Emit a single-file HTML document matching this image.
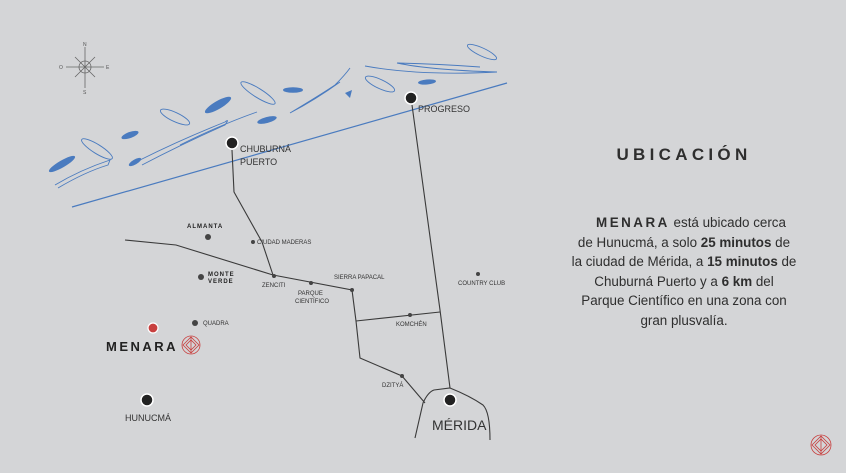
<!DOCTYPE html>
<html><head><meta charset="utf-8"><style>
html,body{margin:0;padding:0}
body{width:846px;height:473px;background:#d4d5d7;position:relative;overflow:hidden;font-family:"Liberation Sans",sans-serif}
svg{position:absolute;left:0;top:0}
.t{position:absolute;left:536px;width:296px;text-align:center;color:#2e2e2e}
</style></head><body>
<svg width="846" height="473" viewBox="0 0 846 473">
<g font-family="Liberation Sans, sans-serif">
<g stroke="#666" stroke-width="0.8" fill="none">
<line x1="85" y1="47" x2="85" y2="88"/><line x1="66" y1="67" x2="104" y2="67"/>
<line x1="75" y1="57" x2="95" y2="77"/><line x1="95" y1="57" x2="75" y2="77"/>
<circle cx="85" cy="67" r="6"/></g>
<g font-size="5" fill="#555"><text x="83" y="46">N</text><text x="59" y="69">O</text><text x="106" y="69">E</text><text x="83" y="94">S</text></g>
<g fill="#4a7bbf">
<ellipse cx="62" cy="164" rx="15" ry="3.5" transform="rotate(-30 62 164)"/>
<ellipse cx="130" cy="135" rx="9" ry="3" transform="rotate(-20 130 135)"/>
<ellipse cx="135" cy="162" rx="7" ry="2.5" transform="rotate(-30 135 162)"/>
<ellipse cx="218" cy="105" rx="15" ry="4" transform="rotate(-30 218 105)"/>
<ellipse cx="267" cy="120" rx="10" ry="3" transform="rotate(-15 267 120)"/>
<ellipse cx="293" cy="90" rx="10" ry="2.8"/>
<polygon points="345,93 352,90 350,98"/>
<ellipse cx="427" cy="82" rx="9" ry="2.5" transform="rotate(-5 427 82)"/>
</g>
<g fill="none" stroke="#4a7bbf" stroke-width="0.9">
<ellipse cx="97" cy="149" rx="18" ry="4.5" transform="rotate(32 97 149)"/>
<ellipse cx="175" cy="117" rx="16" ry="4.5" transform="rotate(25 175 117)"/>
<ellipse cx="258" cy="93" rx="20" ry="4.5" transform="rotate(32 258 93)"/>
<ellipse cx="380" cy="84" rx="16" ry="4.5" transform="rotate(25 380 84)"/>
<ellipse cx="482" cy="52" rx="16" ry="4" transform="rotate(25 482 52)"/>
<path d="M55,185 Q80,170 110,160 L108,165 Q85,172 58,188"/>
<path d="M140,160 Q180,140 225,122 Q230,118 225,125 Q180,145 142,165"/>
<path d="M180,145 Q220,125 257,112"/>
<path d="M290,113 Q320,95 335,85 Q345,75 350,68 M290,113 Q315,100 340,82"/>
<path d="M365,66 Q420,76 497,72 M397,63 Q430,70 497,72 M397,63 Q440,64 480,67"/>
</g>
<line x1="72" y1="207" x2="507" y2="83" stroke="#4a7bbf" stroke-width="1.2"/>
<g fill="none" stroke="#3a3a3a" stroke-width="1.1">
<polyline points="232,150 234,192 262,242 273,275"/>
<polyline points="412,105 440,310 450,388"/>
<polyline points="125,240 176,245 273,275 352,290 356,321 360,358 402,376 425,403"/>
<polyline points="356,321 440,312"/>
<path d="M415,438 L423,403 Q428,392 434,390 L450,388 Q470,396 483,405 Q490,412 490,440"/>
</g>
<g fill="#444">
<circle cx="253" cy="242" r="2"/><circle cx="274" cy="276" r="2"/><circle cx="311" cy="283" r="2"/>
<circle cx="352" cy="290" r="2"/><circle cx="410" cy="315" r="2"/><circle cx="402" cy="376" r="2"/>
<circle cx="478" cy="274" r="2"/>
<circle cx="208" cy="237" r="3"/><circle cx="201" cy="277" r="3"/><circle cx="195" cy="323" r="3"/>
</g>
<g fill="#222" stroke="#fff" stroke-width="1.5">
<circle cx="232" cy="143" r="6"/><circle cx="411" cy="98" r="6"/><circle cx="450" cy="400" r="6"/><circle cx="147" cy="400" r="6"/>
</g>
<circle cx="153" cy="328" r="5" fill="#c8403f" stroke="#fff" stroke-width="1.2"/>
<g fill="#333" font-size="6">
<text x="257" y="244">CIUDAD MADERAS</text>
<text x="262" y="287">ZENCITI</text>
<text x="298" y="295">PARQUE</text><text x="295" y="303">CIENTÍFICO</text>
<text x="334" y="279">SIERRA PAPACAL</text>
<text x="396" y="326">KOMCHÉN</text>
<text x="382" y="387">DZITYÁ</text>
<text x="458" y="285">COUNTRY CLUB</text>
<text x="203" y="325">QUADRA</text>
</g>
<g fill="#222" font-size="6" font-weight="bold" letter-spacing="1">
<text x="187" y="228">ALMANTA</text>
<text x="208" y="276">MONTE</text><text x="208" y="283">VERDE</text>
</g>
<g fill="#333" font-size="9">
<text x="240" y="152">CHUBURNÁ</text><text x="240" y="165">PUERTO</text>
<text x="418" y="112">PROGRESO</text>
<text x="125" y="421">HUNUCMÁ</text>
</g>
<text x="432" y="430" font-size="14" fill="#333">MÉRIDA</text>
<text x="106" y="351" font-size="13" font-weight="bold" letter-spacing="2.5" fill="#222">MENARA</text>
<g fill="none" stroke="#c8403f" stroke-width="0.8">
<circle cx="191" cy="345" r="9"/><path d="M183,345 L191,337 L199,345 L191,353 Z M186,345 L191,340 L196,345 L191,350 Z M191,337 V353"/>
<circle cx="821" cy="445" r="10"/><path d="M812,445 L821,436 L830,445 L821,454 Z M815,445 L821,439 L827,445 L821,451 Z M821,436 V454"/>
</g>
</g>
</svg>
<div class="t" style="top:145px;font-size:17px;font-weight:bold;letter-spacing:4.3px">UBICACIÓN</div>
<div class="t" style="top:213px;font-size:13.4px;line-height:19.5px"><span style="padding-left:14px"></span><b style="letter-spacing:2.5px">MENARA</b> está ubicado cerca<br>de Hunucmá, a solo <b>25 minutos</b> de<br>la ciudad de Mérida, a <b>15 minutos</b> de<br>Chuburná Puerto y a <b>6 km</b> del<br>Parque Científico en una zona con<br>gran plusvalía.</div>
</body></html>
